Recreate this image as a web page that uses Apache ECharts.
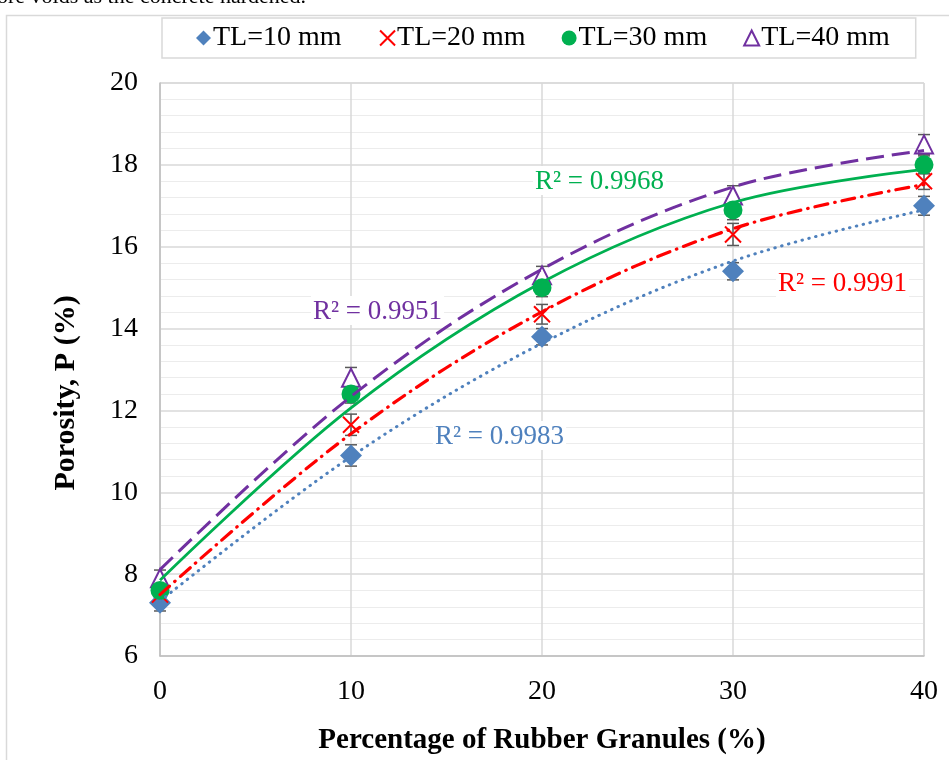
<!DOCTYPE html>
<html>
<head>
<meta charset="utf-8">
<script src="https://cdn.jsdelivr.net/npm/echarts@6/dist/echarts.min.js"></script>
<style>
  html, body { margin: 0; padding: 0; background: #fff; }
  #chart { width: 949px; height: 760px; }
</style>
</head>
<body>
<div id="chart"></div>
<script>
// rubber granule content (%)
const rubber = [0, 10, 20, 30, 40];

// measured porosity (%)
const tl10 = [7.3, 10.9, 13.8, 15.4, 17.0];
const tl20 = [7.5, 11.65, 14.35, 16.3, 17.6];
const tl30 = [7.6, 12.4, 15.0, 16.9, 18.0];
const tl40 = [7.9, 12.8, 15.3, 17.25, 18.5];

// error bar half-widths
const err10 = [0.2, 0.26, 0.2, 0.21, 0.23];
const err20 = [0.2, 0.26, 0.24, 0.27, 0.2];
const err30 = [0.2, 0.22, 0.22, 0.24, 0.22];
const err40 = [0.2, 0.25, 0.22, 0.24, 0.24];

// 2nd order trendline values read at each category
const trend10 = [7.34, 10.87, 13.64, 15.65, 16.90];
const trend20 = [7.50, 11.43, 14.41, 16.44, 17.52];
const trend30 = [7.85, 12.06, 15.13, 17.08, 17.89];
const trend40 = [8.11, 12.34, 15.45, 17.46, 18.35];

const r2Labels = ["R² = 0.9983", "R² = 0.9991", "R² = 0.9968", "R² = 0.9951"];

const BLUE = "#4F81BD", RED = "#FF0000", GREEN = "#00B050", PURPLE = "#7030A0";
const FONT = "Liberation Serif";

function pts(ys) {
  return rubber.map((x, i) => [x, ys[i]]);
}
function errPts(ys, es) {
  return rubber.map((x, i) => [x, ys[i], es[i]]);
}

function errorSeries(ys, es) {
  return {
    type: "custom",
    z: 2,
    silent: true,
    data: errPts(ys, es),
    renderItem(params, api) {
      const x = api.value(0), y = api.value(1), e = api.value(2);
      const top = api.coord([x, y + e]);
      const bot = api.coord([x, y - e]);
      const w = 6;
      const st = { stroke: "#595959", lineWidth: 1.5 };
      return {
        type: "group",
        children: [
          { type: "line", shape: { x1: top[0], y1: top[1], x2: bot[0], y2: bot[1] }, style: st },
          { type: "line", shape: { x1: top[0] - w, y1: top[1], x2: top[0] + w, y2: top[1] }, style: st },
          { type: "line", shape: { x1: bot[0] - w, y1: bot[1], x2: bot[0] + w, y2: bot[1] }, style: st }
        ]
      };
    }
  };
}

function trendSeries(ys, color, dash, width, cap) {
  return {
    type: "line",
    data: pts(ys),
    smooth: 0.35,
    showSymbol: false,
    silent: true,
    z: 6,
    lineStyle: { color: color, width: width, type: dash, cap: cap || "butt" }
  };
}

function r2Text(text, left, top, color) {
  return {
    type: "text",
    left: left,
    top: top,
    z: 10,
    style: { text: text, font: "27px " + FONT, fill: color, backgroundColor: "#fff", padding: [2, 2, 0, 2] }
  };
}

const chart = echarts.init(document.getElementById("chart"));

chart.setOption({
  animation: false,
  backgroundColor: "#fff",
  textStyle: { fontFamily: FONT },
  grid: { left: 160, right: 25, top: 83, bottom: 95, show: true, borderColor: "#d0d0d0", borderWidth: 1 },
  legend: {
    left: 162,
    top: 18,
    padding: [6, 26, 6, 34],
    itemGap: 36,
    itemWidth: 15,
    itemHeight: 15,
    borderColor: "#d9d9d9",
    borderWidth: 1.5,
    textStyle: { fontFamily: FONT, fontSize: 28, color: "#000", padding: [0, 0, 0, -3] },
    data: ["TL=10 mm", "TL=20 mm", "TL=30 mm", "TL=40 mm"]
  },
  xAxis: {
    type: "value",
    min: 0,
    max: 40,
    interval: 10,
    name: "Percentage of Rubber Granules (%)",
    nameLocation: "middle",
    nameGap: 70,
    nameTextStyle: { fontFamily: FONT, fontSize: 29, fontWeight: "bold", color: "#000" },
    axisLine: { lineStyle: { color: "#bfbfbf", width: 1.5 } },
    axisTick: { show: false },
    axisLabel: { fontFamily: FONT, fontSize: 28, color: "#000", margin: 22 },
    splitLine: { show: true, lineStyle: { color: "#d9d9d9", width: 1.5 } }
  },
  yAxis: {
    type: "value",
    min: 6,
    max: 20,
    interval: 2,
    axisLine: { show: true, lineStyle: { color: "#bfbfbf", width: 1.5 } },
    axisTick: { show: false },
    axisLabel: { fontFamily: FONT, fontSize: 28, color: "#000", margin: 22 },
    splitLine: { show: true, lineStyle: { color: "#d9d9d9", width: 1.5 } },
    minorTick: { show: false, splitNumber: 5 },
    minorSplitLine: { show: true, lineStyle: { color: "#ececec", width: 1 } }
  },
  graphic: [
    { type: "rect", left: 4, top: 13, shape: { width: 980, height: 780 }, style: { fill: "none", stroke: "#d9d9d9", lineWidth: 1.5 }, z: -1 },
    { type: "text", x: -3, y: -14, style: { text: "ore voids as the concrete hardened.", font: "22px " + FONT, fill: "#000", verticalAlign: "top" } },
    {
      type: "text",
      x: 66,
      y: 393,
      rotation: Math.PI / 2,
      style: { text: "Porosity, P (%)", font: "bold 30px " + FONT, fill: "#000", align: "center", verticalAlign: "middle" }
    },
    r2Text(r2Labels[0], 433, 421, BLUE),
    r2Text(r2Labels[1], 776, 268, RED),
    r2Text(r2Labels[2], 533, 166, GREEN),
    r2Text(r2Labels[3], 311, 296, PURPLE)
  ],
  series: [
    errorSeries(tl10, err10),
    errorSeries(tl20, err20),
    errorSeries(tl30, err30),
    errorSeries(tl40, err40),
    {
      name: "TL=40 mm",
      type: "scatter",
      z: 4,
      data: pts(tl40),
      symbol: "triangle",
      symbolSize: [18, 18],
      itemStyle: { color: "#fff", borderColor: PURPLE, borderWidth: 2, opacity: 1 }
    },
    {
      name: "TL=10 mm",
      type: "scatter",
      z: 4,
      data: pts(tl10),
      symbol: "diamond",
      symbolSize: [22, 22],
      itemStyle: { color: BLUE, opacity: 1 }
    },
    {
      name: "TL=20 mm",
      type: "scatter",
      z: 4,
      data: pts(tl20),
      symbol: "path://M0,0L10,10M10,0L0,10",
      symbolSize: 16,
      itemStyle: { color: "none", borderColor: RED, borderWidth: 2, opacity: 1 }
    },
    {
      name: "TL=30 mm",
      type: "scatter",
      z: 5,
      data: pts(tl30),
      symbol: "circle",
      symbolSize: 19,
      itemStyle: { color: GREEN, opacity: 1 }
    },
    trendSeries(trend10, BLUE, [0.5, 6.5], 3, "round"),
    trendSeries(trend20, RED, [13, 7, 0.5, 7], 3.2, "round"),
    trendSeries(trend30, GREEN, "solid", 2.8),
    trendSeries(trend40, PURPLE, [18, 8], 3)
  ]
});
</script>
</body>
</html>
